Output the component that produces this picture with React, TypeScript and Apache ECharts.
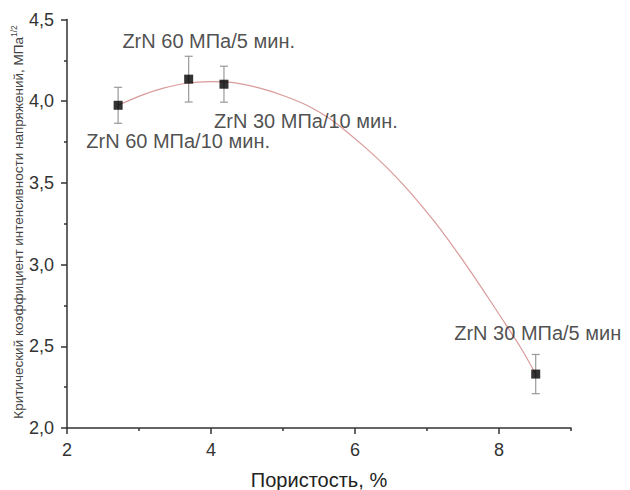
import React, { useEffect, useRef } from "react";
import * as echarts from "echarts";

// Measured points
const porosity = [2.71, 3.69, 4.18, 8.51];
const kic = [3.975, 4.135, 4.104, 2.33];
const kicErr = [0.11, 0.14, 0.11, 0.12];
const pointLabels = [
  "ZrN 60 МПа/10 мин.",
  "ZrN 60 МПа/5 мин.",
  "ZrN 30 МПа/10 мин.",
  "ZrN 30 МПа/5 мин",
];
const labelOffsets = [
  [60, 36],
  [20, -38],
  [82, 37],
  [2, -41],
];

// Fit curve
const fitX = [2.71, 3.06, 3.34, 3.66, 3.99, 4.31, 4.68, 5.0, 5.33, 5.69, 6.16, 6.44, 6.72, 7.0, 7.18, 7.46, 7.74, 8.01, 8.29, 8.51];
const fitY = [3.975, 4.04, 4.08, 4.11, 4.12, 4.114, 4.08, 4.035, 3.975, 3.88, 3.71, 3.595, 3.465, 3.32, 3.22, 3.05, 2.87, 2.69, 2.5, 2.33];

// Axis ticks
const xMajorTicks = [2, 4, 6, 8];
const xMinorTicks = [3, 5, 7, 9];

const FONT = "'Liberation Sans', Arial, sans-serif";

export default function App() {
  const ref = useRef<HTMLDivElement>(null);

  useEffect(() => {
    if (!ref.current) return;
    const chart = echarts.init(ref.current, null, { renderer: "svg" });
    const axisColor = "#333";
    const option: any = {
      animation: false,
      backgroundColor: "#fff",
      textStyle: { fontFamily: FONT },
      grid: { left: 67, right: 59, top: 19.5, bottom: 62, containLabel: false, outerBoundsMode: "none" },
      xAxis: [
        {
          type: "value",
          min: 2,
          max: 9,
          splitLine: { show: false },
          axisLine: { show: true, lineStyle: { color: axisColor, width: 1.5 } },
          axisTick: {
            show: true,
            length: 6,
            customValues: xMajorTicks,
            lineStyle: { color: axisColor, width: 1.5 },
          },
          axisLabel: {
            customValues: xMajorTicks,
            color: "#333",
            fontSize: 18,
            margin: 13,
            fontFamily: FONT,
          },
          name: "Пористость, %",
          nameLocation: "middle",
          nameGap: 42,
          nameTextStyle: { fontSize: 20, color: "#222", fontFamily: FONT },
        },
        {
          type: "value",
          min: 2,
          max: 9,
          position: "bottom",
          splitLine: { show: false },
          axisLine: { show: false },
          axisTick: {
            show: true,
            length: 3,
            customValues: xMinorTicks,
            lineStyle: { color: axisColor, width: 1.5 },
          },
          axisLabel: { show: false },
        },
      ],
      yAxis: {
        type: "value",
        min: 2,
        max: 4.5,
        interval: 0.5,
        splitLine: { show: false },
        axisLine: { show: true, lineStyle: { color: axisColor, width: 1.5 } },
        axisTick: { show: true, length: 6, lineStyle: { color: axisColor, width: 1.5 } },
        minorTick: { show: true, splitNumber: 2, length: 3, lineStyle: { color: axisColor, width: 1.5 } },
        axisLabel: {
          color: "#333",
          fontSize: 18,
          margin: 13,
          fontFamily: FONT,
          formatter: (v: number) => v.toFixed(1).replace(".", ","),
        },
      },
      graphic: [
        {
          type: "text",
          x: 18,
          y: 222,
          rotation: Math.PI / 2,
          style: {
            text: "{a|Критический коэффициент интенсивности напряжений, МПа}{s|1/2}",
            align: "center",
            verticalAlign: "middle",
            fill: "#444",
            rich: {
              a: { fontSize: 13.5, fontFamily: FONT, fill: "#444", lineHeight: 17 },
              s: { fontSize: 8.5, fontFamily: FONT, fill: "#444", verticalAlign: "top", lineHeight: 17 },
            },
          },
        },
      ],
      series: [
        {
          type: "line",
          data: fitX.map((x, i) => [x, fitY[i]]),
          smooth: 0.3,
          showSymbol: false,
          symbol: "none",
          lineStyle: { color: "#d99a9a", width: 1.2 },
          z: 1,
          silent: true,
        },
        {
          type: "custom",
          data: porosity.map((x, i) => [x, kic[i] - kicErr[i], kic[i] + kicErr[i]]),
          encode: { x: 0, y: [1, 2] },
          z: 2,
          silent: true,
          renderItem: (params: any, api: any) => {
            const x = api.value(0);
            const lo = api.coord([x, api.value(1)]);
            const hi = api.coord([x, api.value(2)]);
            const hw = 4;
            const style = { stroke: "#999", lineWidth: 1.2 };
            return {
              type: "group",
              children: [
                { type: "line", shape: { x1: lo[0], y1: lo[1], x2: hi[0], y2: hi[1] }, style },
                { type: "line", shape: { x1: lo[0] - hw, y1: lo[1], x2: lo[0] + hw, y2: lo[1] }, style },
                { type: "line", shape: { x1: hi[0] - hw, y1: hi[1], x2: hi[0] + hw, y2: hi[1] }, style },
              ],
            };
          },
        },
        {
          type: "scatter",
          symbol: "rect",
          symbolSize: 9,
          itemStyle: { color: "#000" },
          z: 3,
          data: porosity.map((x, i) => ({
            value: [x, kic[i]],
            label: {
              show: true,
              formatter: pointLabels[i],
              position: "inside",
              offset: labelOffsets[i],
              fontSize: 20,
              color: "#222",
              fontFamily: FONT,
            },
          })),
        },
      ],
    };
    chart.setOption(option);
    return () => chart.dispose();
  }, []);

  return <div ref={ref} style={{ width: 630, height: 490, position: "absolute", left: 0, top: 0 }} />;
}
